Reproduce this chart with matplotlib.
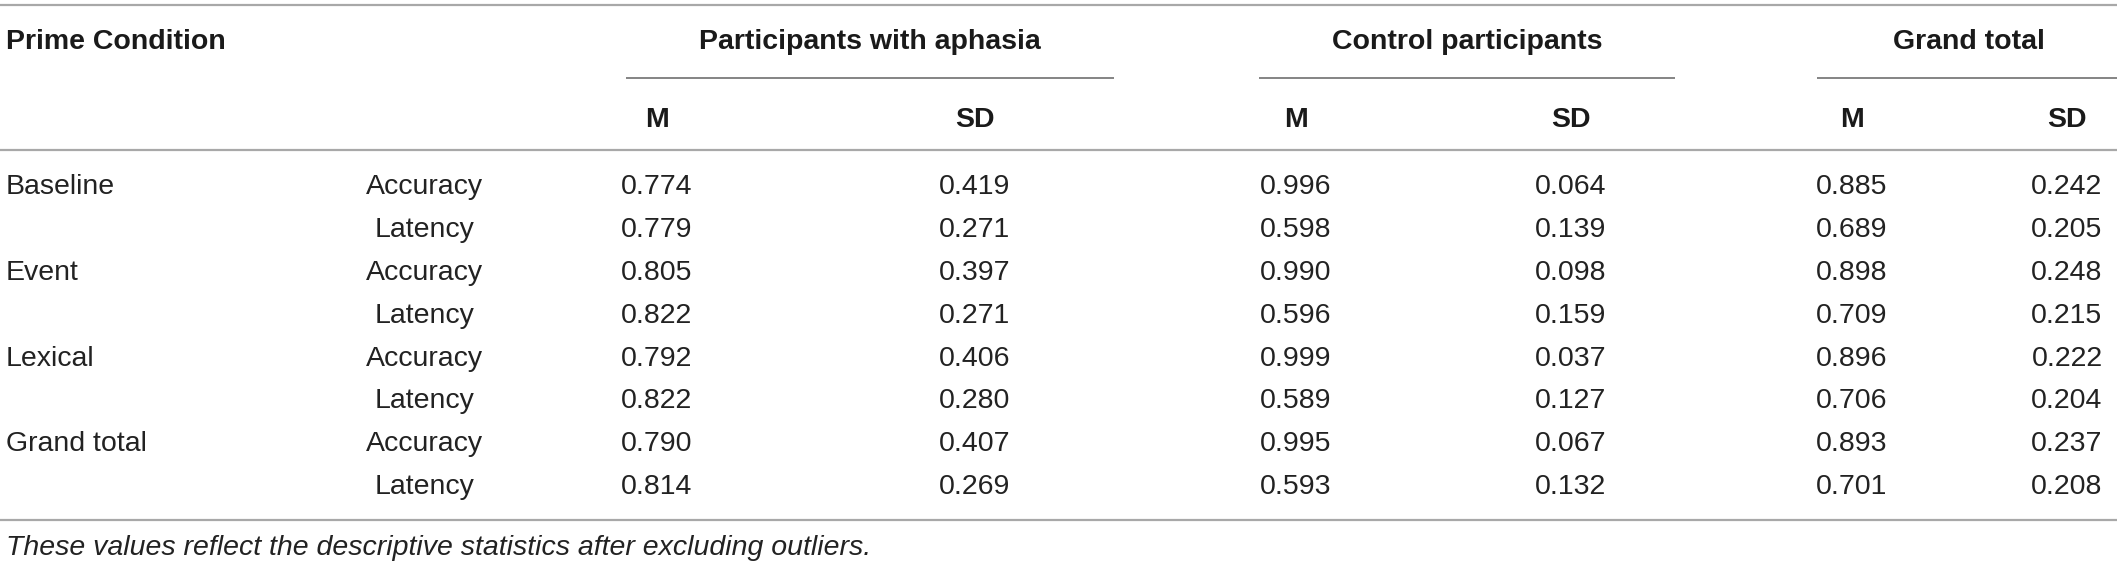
import matplotlib
matplotlib.use("Agg")
import matplotlib.pyplot as plt

# ---- data ----
conditions = ["Baseline", "Event", "Lexical", "Grand total"]
measures = ["Accuracy", "Latency"]
groups = ["Participants with aphasia", "Control participants", "Grand total"]
stat_labels = ["M", "SD"]
aphasia_m = ["0.774", "0.779", "0.805", "0.822", "0.792", "0.822", "0.790", "0.814"]
aphasia_sd = ["0.419", "0.271", "0.397", "0.271", "0.406", "0.280", "0.407", "0.269"]
control_m = ["0.996", "0.598", "0.990", "0.596", "0.999", "0.589", "0.995", "0.593"]
control_sd = ["0.064", "0.139", "0.098", "0.159", "0.037", "0.127", "0.067", "0.132"]
grand_m = ["0.885", "0.689", "0.898", "0.709", "0.896", "0.706", "0.893", "0.701"]
grand_sd = ["0.242", "0.205", "0.248", "0.215", "0.222", "0.204", "0.237", "0.208"]
first_header = "Prime Condition"
footnote = "These values reflect the descriptive statistics after excluding outliers."

# ---- layout (pixel coordinates) ----
W, H = 2117, 568
fig = plt.figure(figsize=(W / 100, H / 100), dpi=100)
ax = fig.add_axes([0, 0, 1, 1])
ax.set_xlim(0, W)
ax.set_ylim(H, 0)
ax.axis("off")

FONT = "Liberation Sans"
FS = 20.5
TXT = "#222222"
LINE = "#a8a8a8"
SUBLINE = "#707070"

col_x = [657, 975, 1296, 1571, 1852, 2067]
group_center = [870, 1467, 1969]
group_span = [(626, 1114), (1259, 1675), (1817, 2117)]
measure_x = 425
row_y0, row_dy = 187, 42.9

# rules
ax.plot([0, W], [5, 5], color=LINE, lw=1.6, solid_capstyle="butt")
ax.plot([0, W], [150, 150], color=LINE, lw=1.6, solid_capstyle="butt")
ax.plot([0, W], [520, 520], color=LINE, lw=1.6, solid_capstyle="butt")
for (a, b) in group_span:
    ax.plot([a, b], [78, 78], color=SUBLINE, lw=1.2, solid_capstyle="butt")

# headers
ax.text(6, 42, first_header, fontfamily=FONT, fontsize=FS, fontweight="bold",
        color="#1a1a1a", ha="left", va="center")
for g, cx in zip(groups, group_center):
    ax.text(cx, 42, g, fontfamily=FONT, fontsize=FS, fontweight="bold",
            color="#1a1a1a", ha="center", va="center")
for i, x in enumerate(col_x):
    ax.text(x, 120, stat_labels[i % 2], fontfamily=FONT, fontsize=FS,
            fontweight="bold", color="#1a1a1a", ha="center", va="center")

# body
columns = [aphasia_m, aphasia_sd, control_m, control_sd, grand_m, grand_sd]
for r in range(8):
    y = row_y0 + r * row_dy
    if r % 2 == 0:
        ax.text(6, y, conditions[r // 2], fontfamily=FONT, fontsize=FS,
                color=TXT, ha="left", va="center")
    ax.text(measure_x, y, measures[r % 2], fontfamily=FONT, fontsize=FS,
            color=TXT, ha="center", va="center")
    for x, col in zip(col_x, columns):
        ax.text(x, y, col[r], fontfamily=FONT, fontsize=FS, color=TXT,
                ha="center", va="center")

ax.text(6, 548, footnote, fontfamily=FONT, fontsize=FS, fontstyle="italic",
        color=TXT, ha="left", va="center")

fig.savefig("out.png", dpi=100, facecolor="white")
